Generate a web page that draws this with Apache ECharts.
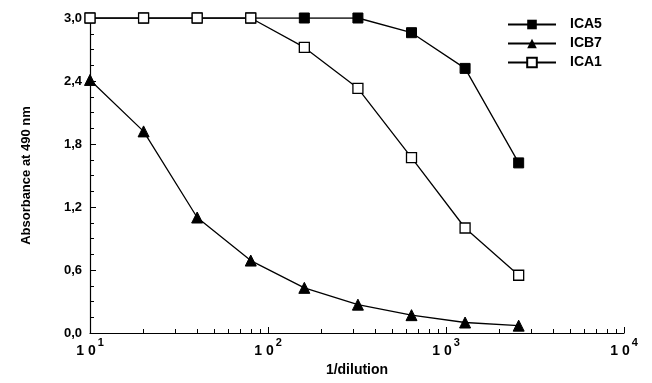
<!DOCTYPE html>
<html>
<head>
<meta charset="utf-8">
<script src="https://cdn.jsdelivr.net/npm/echarts@6/dist/echarts.min.js"></script>
<style>
  html, body { margin: 0; padding: 0; background: #fff; }
  #main { width: 652px; height: 383px; }
</style>
</head>
<body>
<div id="main"></div>
<script>
// 1/dilution values
var dilutions = [10, 20, 40, 80, 160, 320, 640, 1280, 2560];
// absorbance at 490 nm
var ica5 = [3.0, 3.0, 3.0, 3.0, 3.0, 3.0, 2.86, 2.52, 1.62];
var icb7 = [2.41, 1.92, 1.10, 0.69, 0.43, 0.27, 0.17, 0.10, 0.07];
var ica1 = [3.0, 3.0, 3.0, 3.0, 2.72, 2.33, 1.67, 1.00, 0.55];
var yTicks = [0, 0.6, 1.2, 1.8, 2.4, 3.0];

function pairs(ys) {
  return dilutions.map(function (d, i) { return [d, ys[i]]; });
}

var font = "Liberation Sans, Arial, sans-serif";
var myChart = echarts.init(document.getElementById("main"));
myChart.setOption({
  animation: false,
  backgroundColor: "#fff",
  textStyle: { fontFamily: font, color: "#000" },
  grid: { left: 90, right: 28, top: 18, bottom: 50 },
  legend: {
    orient: "vertical",
    left: 502,
    top: 12,
    itemWidth: 48,
    itemHeight: 12,
    itemGap: 4,
    textStyle: { fontFamily: font, fontWeight: "bold", fontSize: 14, lineHeight: 15, color: "#000", padding: [0, 0, 0, 9] },
    data: ["ICA5", "ICB7", "ICA1"]
  },
  xAxis: {
    type: "log",
    logBase: 10,
    min: 10,
    max: 10000,
    name: "1/dilution",
    nameLocation: "middle",
    nameGap: 29,
    nameTextStyle: { fontFamily: font, fontWeight: "bold", fontSize: 14, color: "#000" },
    splitLine: { show: false },
    axisLine: { lineStyle: { color: "#000", width: 1.2 } },
    axisTick: { inside: true, length: 6, lineStyle: { color: "#000" } },
    minorTick: { show: true, splitNumber: 9, length: 4, lineStyle: { color: "#000" } },
    axisLabel: {
      margin: 4,
      formatter: function (v) {
        return "{b|1 0}{e|" + Math.round(Math.log10(v)) + "}";
      },
      rich: {
        b: { fontFamily: font, fontWeight: "bold", fontSize: 14, color: "#000", padding: [7, 0, 0, 0] },
        e: { fontFamily: font, fontWeight: "bold", fontSize: 11, color: "#000", verticalAlign: "top", padding: [0, 0, 7, 2] }
      }
    }
  },
  yAxis: {
    type: "value",
    min: yTicks[0],
    max: yTicks[yTicks.length - 1],
    interval: 0.6,
    name: "Absorbance at 490 nm",
    nameLocation: "middle",
    nameRotate: 90,
    nameGap: 57,
    nameTextStyle: { fontFamily: font, fontWeight: "bold", fontSize: 13, color: "#000" },
    splitLine: { show: false },
    axisLine: { show: true, lineStyle: { color: "#000", width: 1.2 } },
    axisTick: { show: true, inside: true, length: 6, lineStyle: { color: "#000" } },
    minorTick: { show: true, splitNumber: 4, length: 4, lineStyle: { color: "#000" } },
    axisLabel: {
      margin: 8,
      fontFamily: font,
      fontWeight: "bold",
      fontSize: 13,
      color: "#000",
      formatter: function (v) { return v.toFixed(1).replace(".", ","); }
    }
  },
  series: [
    {
      name: "ICA5",
      type: "line",
      data: pairs(ica5),
      symbol: "rect",
      symbolSize: 10,
      itemStyle: { color: "#000", borderColor: "#000" },
      lineStyle: { color: "#000", width: 1.3 },
      z: 2
    },
    {
      name: "ICB7",
      type: "line",
      data: pairs(icb7),
      symbol: "triangle",
      symbolSize: 11,
      itemStyle: { color: "#000", borderColor: "#000" },
      lineStyle: { color: "#000", width: 1.3 },
      z: 3
    },
    {
      name: "ICA1",
      type: "line",
      data: pairs(ica1),
      symbol: "rect",
      symbolSize: 10,
      itemStyle: { color: "#fff", borderColor: "#000", borderWidth: 1.3 },
      lineStyle: { color: "#000", width: 1.3 },
      z: 4
    }
  ]
});
</script>
</body>
</html>
